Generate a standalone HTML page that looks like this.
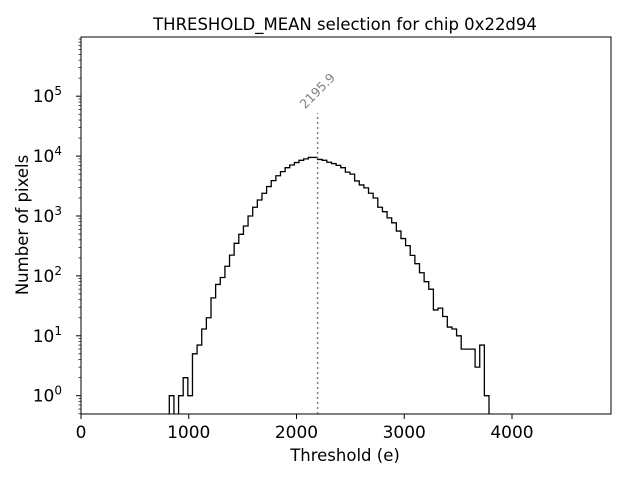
<!DOCTYPE html>
<html><head><meta charset="utf-8"><style>
html,body{margin:0;padding:0;background:#fff;}
svg{display:block;font-family:"DejaVu Sans","Liberation Sans",sans-serif;}
</style></head><body>
<svg id="chart" width="640" height="480" viewBox="0 0 640 480">
<rect width="640" height="480" fill="#fff"/>
<text x="345" y="30" text-anchor="middle" font-size="16.5" fill="#000">THRESHOLD_MEAN selection for chip 0x22d94</text>
<g id="yticks"></g>
<g id="xticks"></g>
<path id="hist" fill="none" stroke="#000" stroke-width="1.3"/>
<line id="meanline" stroke="#808080" stroke-width="1.5" stroke-dasharray="2,3"/>
<text id="meanlabel" font-size="12.5" fill="#808080" text-anchor="middle"></text>
<rect x="81" y="37" width="530" height="377" fill="none" stroke="#000" stroke-width="1"/>
<text x="345" y="461" text-anchor="middle" font-size="16.5" fill="#000">Threshold (e)</text>
<text transform="translate(28,225) rotate(-90)" text-anchor="middle" font-size="16.5" fill="#000">Number of pixels</text>
</svg>
<script>
const binStart = 819.5;
const binWidth = 43.0;
const counts = [1,0,1,2,1,5,7,13,20,43,72,94,145,222,350,495,680,1000,1400,1850,2400,3100,3900,4700,5500,6400,7100,7800,8500,9000,9500,9500,
8800,8500,7900,7500,7000,6400,5400,5000,3850,3300,2950,2400,2000,1400,1180,930,770,560,420,320,220,160,113,80,60,27,29,21,14,13,10,6,6,6,3,7,1];
const meanValue = 2195.9;
const xTicks = [0,1000,2000,3000,4000];
const yTickExps = [0,1,2,3,4,5];
const NS = "http://www.w3.org/2000/svg";
function X(v){return 81 + v*0.10775;}
function Y(v){return 395.7 - 59.9*Math.log10(v);}
const yBottom = 414;
function Yc(c){return c>0?Y(c):yBottom+2;}
let d = "";
for(let i=0;i<counts.length;i++){
  const x0=X(binStart+i*binWidth), x1=X(binStart+(i+1)*binWidth), y=Yc(counts[i]);
  if(i===0) d += "M"+x0+","+(yBottom+2)+"L"+x0+","+y; else d += "L"+x0+","+y;
  d += "L"+x1+","+y;
}
d += "L"+X(binStart+counts.length*binWidth)+","+(yBottom+2);
const hist=document.getElementById("hist");
hist.setAttribute("d",d);
hist.setAttribute("clip-path","url(#clip)");
const defs=document.createElementNS(NS,"defs");
defs.innerHTML='<clipPath id="clip"><rect x="81" y="37" width="530" height="377"/></clipPath>';
document.getElementById("chart").prepend(defs);
const ml=document.getElementById("meanline");
const maxC=Math.max(...counts);
ml.setAttribute("x1",X(meanValue));ml.setAttribute("x2",X(meanValue));
ml.setAttribute("y1",yBottom);ml.setAttribute("y2",Y(maxC*5.5));
const lab=document.getElementById("meanlabel");
lab.textContent=meanValue.toFixed(1);
const lx=X(meanValue), ly=Y(maxC*5.5)-22;
lab.setAttribute("transform","translate("+lx+","+ly+") rotate(-45)");
lab.setAttribute("y","4");
const xg=document.getElementById("xticks");
xTicks.forEach(t=>{
  const l=document.createElementNS(NS,"line");
  
  
  l.setAttribute("x1",X(t));l.setAttribute("x2",X(t));l.setAttribute("y1",414);l.setAttribute("y2",419);l.setAttribute("stroke","#000");
  xg.appendChild(l);
  const tx=document.createElementNS(NS,"text");
  
  
  tx.setAttribute("x",X(t));tx.setAttribute("y",438);tx.setAttribute("text-anchor","middle");tx.setAttribute("font-size","17");
  tx.textContent=t;xg.appendChild(tx);
});
const yg=document.getElementById("yticks");
for(let e=-1;e<=5;e++){
  for(let m=1;m<10;m++){
    const v=m*Math.pow(10,e), y=Y(v);
    if(y>414||y<37) continue;
    const l=document.createElementNS(NS,"line");
    
    
    l.setAttribute("x1",81);l.setAttribute("x2",m===1?76:78.5);l.setAttribute("y1",y);l.setAttribute("y2",y);l.setAttribute("stroke","#000");l.setAttribute("stroke-width",m===1?1:0.7);
    yg.appendChild(l);
  }
}
yTickExps.forEach(e=>{
  const tx=document.createElementNS(NS,"text");
  
  
  tx.setAttribute("x",62);tx.setAttribute("y",Y(Math.pow(10,e))+6);tx.setAttribute("text-anchor","end");tx.setAttribute("font-size","17");
  tx.innerHTML='10<tspan font-size="12" dy="-7">'+e+'</tspan>';
  yg.appendChild(tx);
});
</script>
</body></html>
